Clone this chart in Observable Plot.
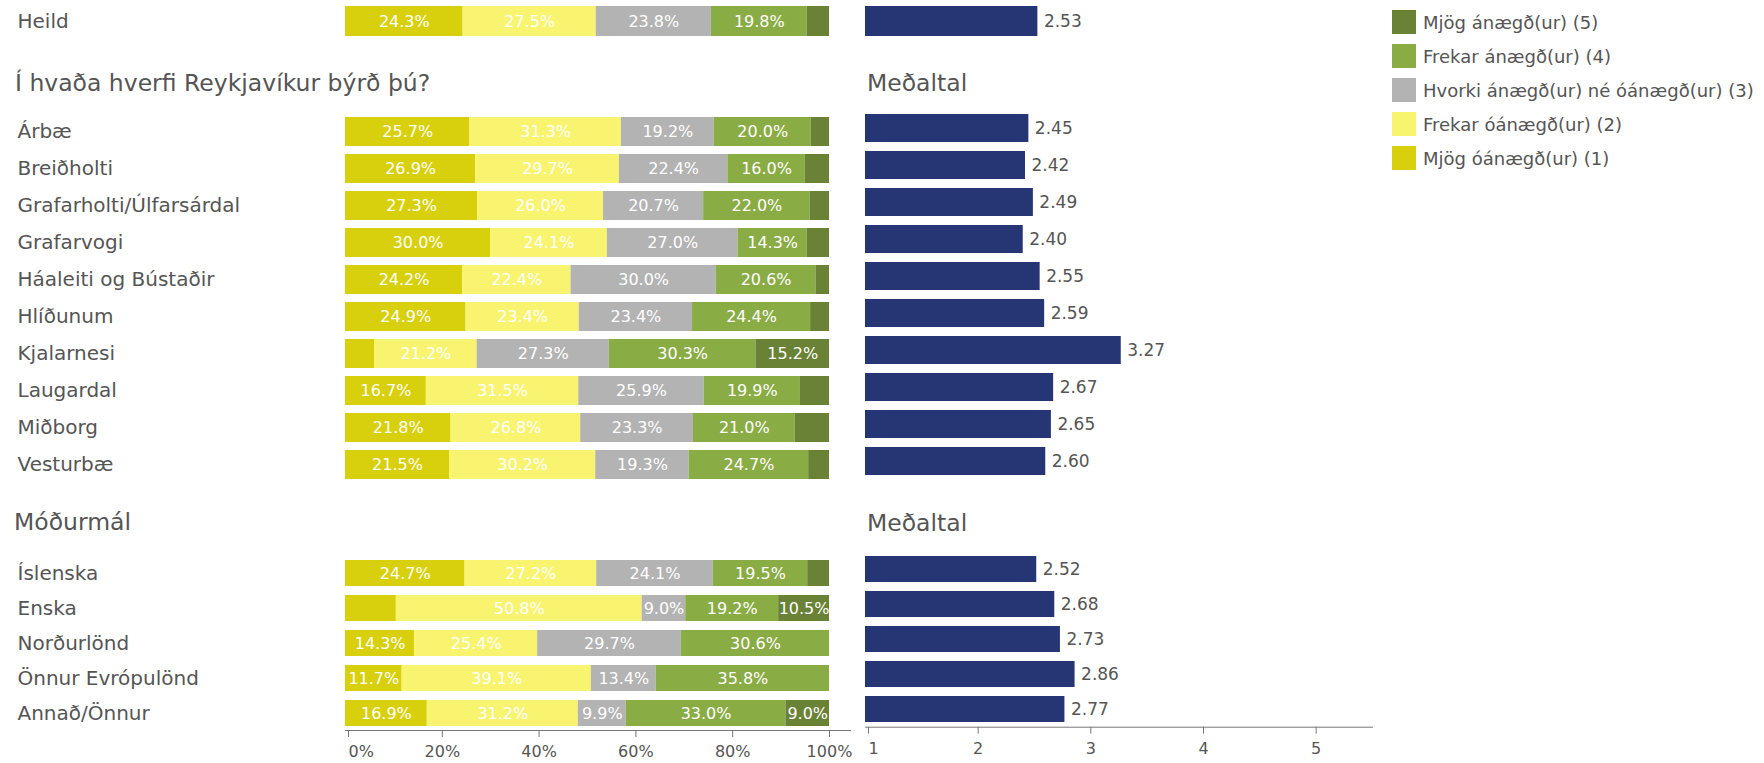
<!DOCTYPE html>
<html><head><meta charset="utf-8">
<script src="https://cdn.jsdelivr.net/npm/d3@7"></script>
<script src="https://cdn.jsdelivr.net/npm/@observablehq/plot@0.6"></script>
<style>
body{margin:0;background:#fff;}
#root{position:relative;width:1764px;height:763px;overflow:hidden;font-family:"DejaVu Sans",sans-serif;color:#555;}
.panel{position:absolute;}
.title{position:absolute;font-size:23.5px;line-height:1;white-space:nowrap;color:#555;font-family:"DejaVu Sans",sans-serif;}
.lg-swatches{font-family:"DejaVu Sans",sans-serif !important;font-size:18px !important;color:#555 !important;margin:0 !important;}
.lg-swatch{padding-bottom:10px !important;}
.lg-swatch svg{margin-right:7px !important;}
</style></head>
<body><div id="root"></div>
<script>
// ---- data ----
const heildRows = ["Heild"];
const districtRows = ["Árbæ","Breiðholti","Grafarholti/Úlfarsárdal","Grafarvogi","Háaleiti og Bústaðir","Hlíðunum","Kjalarnesi","Laugardal","Miðborg","Vesturbæ"];
const languageRows = ["Íslenska","Enska","Norðurlönd","Önnur Evrópulönd","Annað/Önnur"];
const rows = [...heildRows, ...districtRows, ...languageRows];

const categories = ["Mjög óánægð(ur) (1)","Frekar óánægð(ur) (2)","Hvorki ánægð(ur) né óánægð(ur) (3)","Frekar ánægð(ur) (4)","Mjög ánægð(ur) (5)"];
const colors = ["#d8d00c","#f9f46f","#b3b3b3","#8aac45","#6a8236"];

const mjogOanaegd   = [24.3, 25.7, 26.9, 27.3, 30.0, 24.2, 24.9,  6.0, 16.7, 21.8, 21.5, 24.7, 10.5, 14.3, 11.7, 16.9];
const frekarOanaegd = [27.5, 31.3, 29.7, 26.0, 24.1, 22.4, 23.4, 21.2, 31.5, 26.8, 30.2, 27.2, 50.8, 25.4, 39.1, 31.2];
const hvorki        = [23.8, 19.2, 22.4, 20.7, 27.0, 30.0, 23.4, 27.3, 25.9, 23.3, 19.3, 24.1,  9.0, 29.7, 13.4,  9.9];
const frekarAnaegd  = [19.8, 20.0, 16.0, 22.0, 14.3, 20.6, 24.4, 30.3, 19.9, 21.0, 24.7, 19.5, 19.2, 30.6, 35.8, 33.0];
const mjogAnaegd    = [ 4.6,  3.8,  5.0,  4.0,  4.6,  2.8,  3.9, 15.2,  6.0,  7.1,  4.3,  4.5, 10.5,  0.0,  0.0,  9.0];
const means         = [2.53, 2.45, 2.42, 2.49, 2.40, 2.55, 2.59, 3.27, 2.67, 2.65, 2.60, 2.52, 2.68, 2.73, 2.86, 2.77];
const unlabeled = [["Enska", "Mjög óánægð(ur) (1)"]];

const pctTicks = [0, 20, 40, 60, 80, 100];
const meanTicks = [1, 2, 3, 4, 5];

// ---- derived tables ----
const series = [mjogOanaegd, frekarOanaegd, hvorki, frekarAnaegd, mjogAnaegd];
const long = rows.flatMap((row, i) => series.map((vals, j) => ({row, cat: categories[j], value: vals[i]})));
const meanTable = rows.map((row, i) => ({row, mean: means[i]}));

const FONT = "DejaVu Sans, sans-serif";
const baseStyle = {fontFamily: FONT, color: "#555", background: "transparent", overflow: "visible"};
const segLabel = d => (d.value >= 8 && !unlabeled.some(([r, c]) => r === d.row && c === d.cat)) ? d.value.toFixed(1) + "%" : "";
const axisStyle = {tickSize: 7, tickPadding: 8, fontSize: 16, stroke: "#777", fill: "#555", label: null};

function stacked(rowNames, {height, marginTop, marginBottom, paddingInner, paddingOuter, axis}) {
  const data = long.filter(d => rowNames.includes(d.row));
  const marks = [
    Plot.barX(data, Plot.stackX({x: "value", y: "row", fill: "cat"})),
    Plot.text(data, Plot.stackX({x: "value", y: "row", text: segLabel, fill: "white", fontSize: 16})),
    Plot.axisY({tickSize: 0, textAnchor: "start", dx: -319, fontSize: 20, fill: "#555", label: null})
  ];
  if (axis) {
    marks.push(
      Plot.frame({anchor: "bottom", stroke: "#777"}),
      Plot.axisX({...axisStyle, ticks: pctTicks.slice(1), tickFormat: d => d + "%"}),
      Plot.axisX({...axisStyle, ticks: pctTicks.slice(0, 1), tickFormat: d => d + "%", textAnchor: "start", dx: 3})
    );
  }
  return Plot.plot({
    width: 860, height, marginLeft: 345, marginRight: 10, marginTop, marginBottom,
    x: axis ? {domain: [0, 104.34], label: null} : {domain: [0, 104.34], axis: null},
    y: {domain: rowNames, paddingInner, paddingOuter, label: null},
    color: {domain: categories, range: colors},
    style: baseStyle,
    marks
  });
}

function meanPlot(rowNames, {height, marginTop, marginBottom, paddingInner, paddingOuter, axis}) {
  const data = meanTable.filter(d => rowNames.includes(d.row));
  const marks = [
    Plot.barX(data, {x1: 1, x2: "mean", y: "row", fill: "#263574"}),
    Plot.text(data, {x: "mean", y: "row", text: d => d.mean.toFixed(2), textAnchor: "start", dx: 6, fontSize: 17, fill: "#555"})
  ];
  if (axis) {
    marks.push(
      Plot.frame({anchor: "bottom", stroke: "#777"}),
      Plot.axisX({...axisStyle, ticks: meanTicks.slice(1), tickFormat: d => String(d)}),
      Plot.axisX({...axisStyle, ticks: meanTicks.slice(0, 1), tickFormat: d => String(d), textAnchor: "start", dx: 3})
    );
  }
  return Plot.plot({
    width: 540, height, marginLeft: 15, marginRight: 18, marginTop, marginBottom,
    x: axis ? {domain: [1, 5.5], label: null} : {domain: [1, 5.5], axis: null},
    y: {domain: rowNames, paddingInner, paddingOuter, axis: null},
    style: baseStyle,
    marks
  });
}

const root = document.getElementById("root");
function place(node, left, top, width) {
  const div = document.createElement("div");
  div.className = "panel";
  div.style.left = left + "px";
  div.style.top = top + "px";
  if (width) div.style.width = width + "px";
  div.appendChild(node);
  root.appendChild(div);
}
function title(text, left, top) {
  const div = document.createElement("div");
  div.className = "title";
  div.style.left = left + "px";
  div.style.top = top + "px";
  div.textContent = text;
  root.appendChild(div);
}

place(stacked(heildRows, {height: 41, marginTop: 5.5, marginBottom: 5.5, paddingInner: 0, paddingOuter: 0}), 0, 0, 860);
place(meanPlot(heildRows, {height: 41, marginTop: 5.5, marginBottom: 5.5, paddingInner: 0, paddingOuter: 0}), 850, 0, 540);

place(stacked(districtRows, {height: 376, marginTop: 7, marginBottom: 6.5, paddingInner: 0.217, paddingOuter: 0}), 0, 110, 860);
place(meanPlot(districtRows, {height: 376, marginTop: 7, marginBottom: 6.5, paddingInner: 0.232, paddingOuter: 0}), 850, 106, 540);

place(stacked(languageRows, {height: 213, marginTop: 6, marginBottom: 33, paddingInner: 0.244, paddingOuter: 0.087, axis: true}), 0, 550, 860);
place(meanPlot(languageRows, {height: 217, marginTop: 5.6, marginBottom: 36.3, paddingInner: 0.246, paddingOuter: 0.096, axis: true}), 850, 546, 540);

title("Í hvaða hverfi Reykjavíkur býrð þú?", 15, 72);
title("Meðaltal", 867, 72);
title("Móðurmál", 14, 511);
title("Meðaltal", 867, 512);

const legend = Plot.legend({
  legend: "swatches", columns: 1, swatchSize: 24, className: "lg",
  color: {domain: categories.slice().reverse(), range: colors.slice().reverse()}
});
place(legend, 1392, 10, 370);
</script></body></html>
